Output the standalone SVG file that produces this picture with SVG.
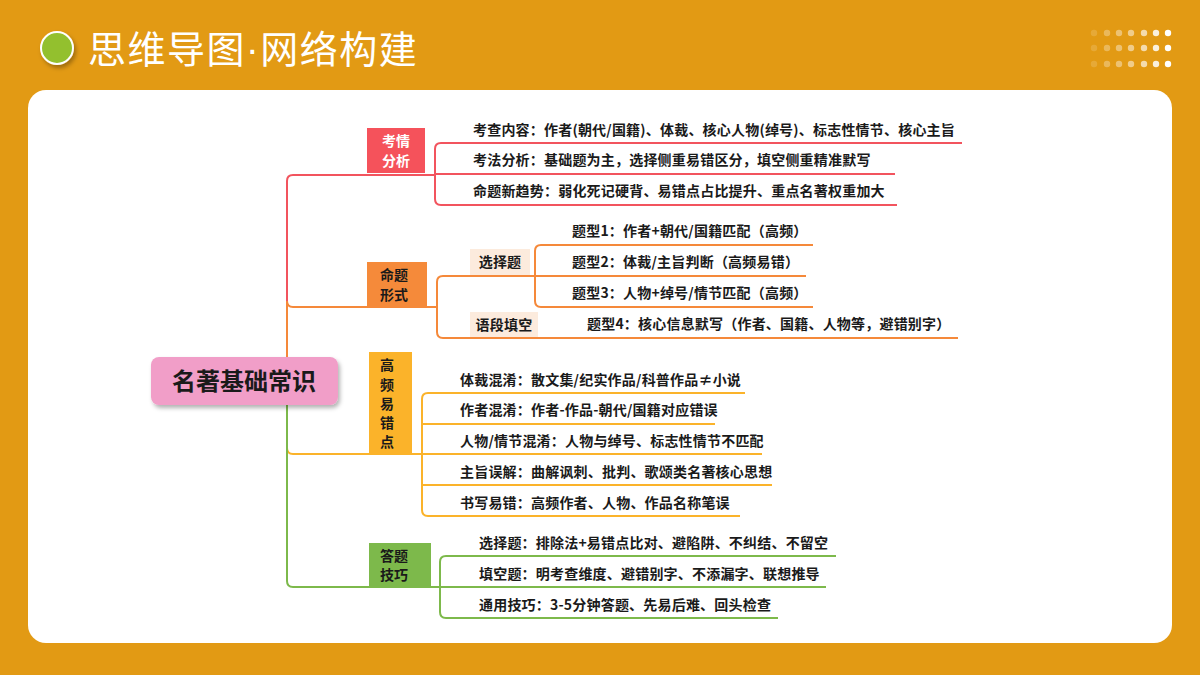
<svg xmlns="http://www.w3.org/2000/svg" width="1200" height="675" viewBox="0 0 1200 675">
<style>
text{font-family:"Noto Sans CJK SC","Noto Sans",sans-serif;font-weight:bold;}
.t{font-size:14px;fill:#1a1a1a;letter-spacing:0.2px;}
.n{font-size:14px;}
.l{fill:none;stroke-width:2;}
.r{stroke:#F2545E;}.o{stroke:#F5893A;}.y{stroke:#FBB32A;}.g{stroke:#7DB94B;}
</style>
<defs><filter id="sh" x="-20%" y="-20%" width="140%" height="150%"><feDropShadow dx="2" dy="3" stdDeviation="2" flood-opacity="0.3"/></filter></defs>
<rect width="1200" height="675" fill="#E29A14"/>
<rect x="28" y="90" width="1144" height="553" rx="18" fill="#fff"/>
<circle cx="57" cy="48" r="16" fill="#93C02F" stroke="#fff" stroke-width="2" filter="url(#sh)"/>
<text x="88" y="63" style="font-weight:normal;font-size:38px;letter-spacing:1.5px;fill:#fff">思维导图<tspan style="font-family:'Liberation Sans',sans-serif">·</tspan>网络构建</text>
<g id="dots">
<g fill="#fff">
<g opacity="0.15"><circle cx="1094" cy="33" r="3.2"/><circle cx="1094" cy="48" r="3.2"/><circle cx="1094" cy="64" r="3.2"/></g>
<g opacity="0.3"><circle cx="1107" cy="33" r="3.2"/><circle cx="1107" cy="48" r="3.2"/><circle cx="1107" cy="64" r="3.2"/></g>
<g opacity="0.4"><circle cx="1119" cy="33" r="3.2"/><circle cx="1119" cy="48" r="3.2"/><circle cx="1119" cy="64" r="3.2"/></g>
<g opacity="0.5"><circle cx="1131" cy="33" r="3.2"/><circle cx="1131" cy="48" r="3.2"/><circle cx="1131" cy="64" r="3.2"/></g>
<g opacity="0.65"><circle cx="1144" cy="33" r="3.2"/><circle cx="1144" cy="48" r="3.2"/><circle cx="1144" cy="64" r="3.2"/></g>
<g opacity="0.85"><circle cx="1156" cy="33" r="3.2"/><circle cx="1156" cy="48" r="3.2"/><circle cx="1156" cy="64" r="3.2"/></g>
<g opacity="1"><circle cx="1168" cy="33" r="3.2"/><circle cx="1168" cy="48" r="3.2"/><circle cx="1168" cy="64" r="3.2"/></g>
</g></g>
<g id="connectors">
<path class="l r" d="M287 357 V181 Q287 175 293 175 H435 M962 143 H441 Q435 143 435 149 V199 Q435 205 441 205 H897 M435 174 H895"/>
<path class="l o" d="M287 357 V301 Q287 307 293 307 H437 M806 276 H443 Q437 276 437 282 V332 Q437 338 443 338 H958 M813 245 H541 Q535 245 535 251 V301 Q535 307 541 307 H813"/>
<path class="l y" d="M287 405 V448 Q287 454 293 454 H762 M745 393 H428 Q422 393 422 399 V510 Q422 516 428 516 H740 M422 424 H715 M422 485 H772"/>
<path class="l g" d="M287 405 V581 Q287 587 293 587 H826 M836 556 H446 Q440 556 440 562 V612 Q440 618 446 618 H778"/>
</g>
<g id="root"><rect x="151" y="357" width="187" height="48" rx="8" fill="#F19EC8" filter="url(#sh)"/>
<text x="244" y="390" text-anchor="middle" style="font-size:24px;fill:#1a1a1a">名著基础常识</text></g>
<g id="n1"><rect x="367" y="128" width="58" height="45" fill="#F5525B"/>
<text x="396" y="146" text-anchor="middle" class="n" fill="#fff">考情</text><text x="396" y="166" text-anchor="middle" class="n" fill="#fff">分析</text></g>
<g id="n1c"><text class="t" x="473" y="135">考查内容：作者(朝代/国籍)、体裁、核心人物(绰号)、标志性情节、核心主旨</text>
<text class="t" x="473" y="165">考法分析：基础题为主，选择侧重易错区分，填空侧重精准默写</text>
<text class="t" x="473" y="196">命题新趋势：弱化死记硬背、易错点占比提升、重点名著权重加大</text></g>
<g id="n2"><rect x="367" y="262" width="60" height="45" fill="#F58A3A"/>
<text x="394" y="280" text-anchor="middle" class="n" fill="#1a1a1a">命题</text><text x="394" y="300" text-anchor="middle" class="n" fill="#1a1a1a">形式</text></g>
<g id="n2a"><rect x="470" y="249" width="60" height="26" fill="#FCEBDD"/><text class="t" x="500" y="267" text-anchor="middle">选择题</text></g>
<g id="n2b"><rect x="470" y="312" width="68" height="25" fill="#FCEBDD"/><text class="t" x="504" y="330" text-anchor="middle">语段填空</text></g>
<g id="n2c"><text class="t" x="572" y="236">题型1：作者+朝代/国籍匹配（高频）</text>
<text class="t" x="572" y="267">题型2：体裁/主旨判断（高频易错）</text>
<text class="t" x="572" y="298">题型3：人物+绰号/情节匹配（高频）</text>
<text class="t" x="587" y="329">题型4：核心信息默写（作者、国籍、人物等，避错别字）</text></g>
<g id="n3"><rect x="369" y="352" width="43" height="102" fill="#FBB32A"/>
<g class="n" fill="#1a1a1a" text-anchor="middle"><text x="387" y="370">高</text><text x="387" y="390">频</text><text x="387" y="409">易</text><text x="387" y="428">错</text><text x="387" y="447">点</text></g></g>
<g id="n3c"><text class="t" x="460" y="385">体裁混淆：散文集/纪实作品/科普作品≠小说</text>
<text class="t" x="460" y="415">作者混淆：作者-作品-朝代/国籍对应错误</text>
<text class="t" x="460" y="446">人物/情节混淆：人物与绰号、标志性情节不匹配</text>
<text class="t" x="460" y="477">主旨误解：曲解讽刺、批判、歌颂类名著核心思想</text>
<text class="t" x="460" y="508">书写易错：高频作者、人物、作品名称笔误</text></g>
<g id="n4"><rect x="369" y="543" width="62" height="44" fill="#7DB94B"/>
<text x="394" y="561" text-anchor="middle" class="n" fill="#1a1a1a">答题</text><text x="394" y="580" text-anchor="middle" class="n" fill="#1a1a1a">技巧</text></g>
<g id="n4c"><text class="t" x="479" y="548">选择题：排除法+易错点比对、避陷阱、不纠结、不留空</text>
<text class="t" x="479" y="579">填空题：明考查维度、避错别字、不添漏字、联想推导</text>
<text class="t" x="479" y="610">通用技巧：3-5分钟答题、先易后难、回头检查</text></g>
</svg>
